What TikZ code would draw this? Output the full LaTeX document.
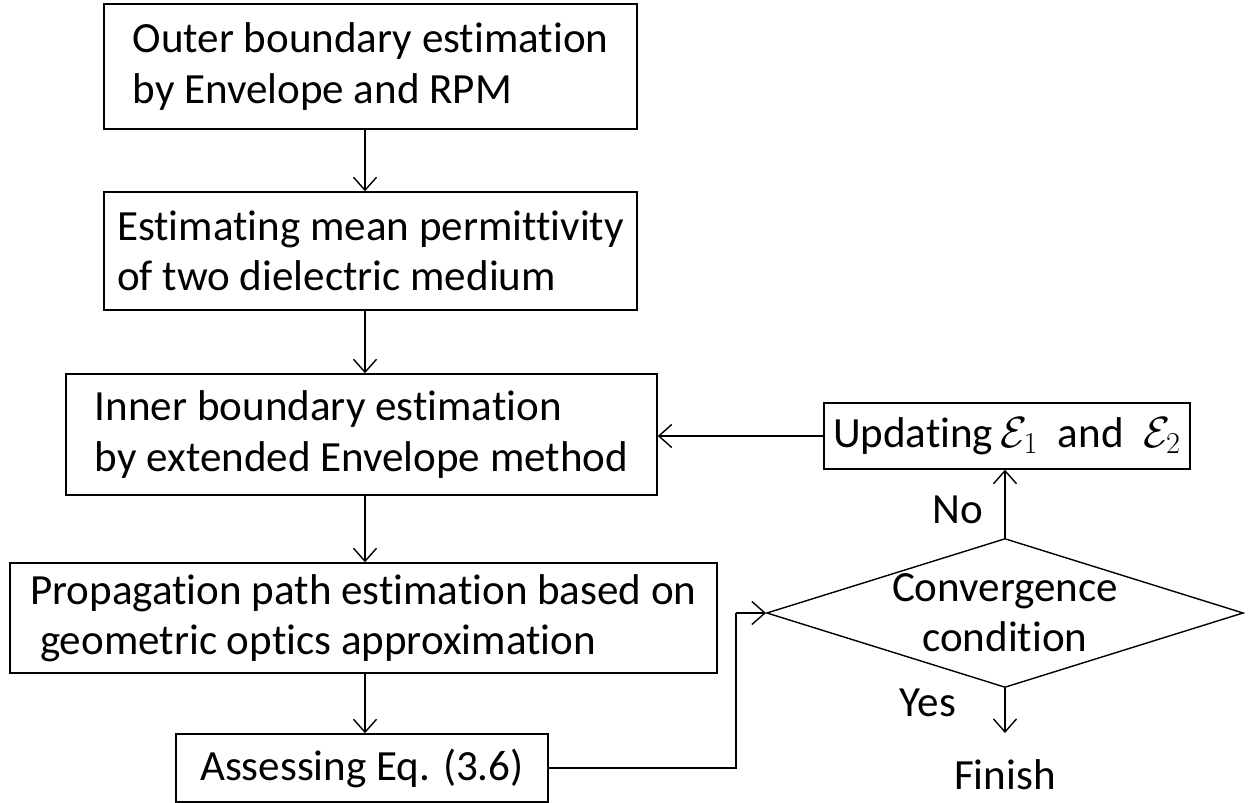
\documentclass[tikz,border=0pt]{standalone}
\usepackage{amsmath}
\usepackage{fontspec}
\setmainfont{Carlito}[Ligatures=NoCommon]
\usetikzlibrary{arrows, arrows.meta, shapes.geometric}

\begin{document}
\begin{tikzpicture}[
  box/.style={draw, line width=0.8pt, inner sep=0pt, align=left},
  arr/.style={line width=0.8pt, -{Straight Barb[length=2.6mm,width=4.6mm]}},
  every node/.style={font=\fontsize{24.5}{28.5}\selectfont}
]
\useasboundingbox (0,0) rectangle (24.96,-16.06);

\node[box, minimum width=10.66cm, minimum height=2.5cm] (outer) at (7.41,-1.33)
  {Outer boundary estimation\\by Envelope and RPM}; %1
\node[box, minimum width=10.66cm, minimum height=2.36cm] (mean) at (7.41,-5.02)
  {Estimating mean permittivity\\of two dielectric medium}; %2
\node[box, minimum width=11.82cm, minimum height=2.42cm] (inner) at (7.23,-8.69)
  {Inner boundary estimation\\by extended Envelope method}; %3
\node[box, minimum width=14.14cm, minimum height=2.2cm] (path) at (7.27,-12.36)
  {Propagation path estimation based on\\\ geometric optics approximation}; %4
\node[box, minimum width=7.44cm, minimum height=1.36cm] (assess) at (7.24,-15.36)
  {Assessing Eq. (3.6)}; %5
\node[box, minimum width=7.32cm, minimum height=1.32cm] (update) at (20.14,-8.72)
  {Updating\,$\mathcal{E}_1$\ \ and\ \ $\mathcal{E}_2$}; %6
\node[draw, line width=0.8pt, diamond, aspect=3.2, inner sep=0pt, align=center,
  minimum width=9.4cm, minimum height=2.94cm] (cond) at (20.10,-12.26)
  {Convergence\\condition}; %7
\node[] (finish) at (20.10,-15.5) {Finish};
\coordinate (finarr) at (20.10,-14.66);
\coordinate (bend) at (14.72,-12.26);

\draw[arr] (outer.south -| 7.3,0) -- (mean.north -| 7.3,0);
\draw[arr] (mean.south -| 7.3,0) -- (inner.north -| 7.3,0);
\draw[arr] (inner.south -| 7.3,0) -- (path.north -| 7.3,0);
\draw[arr] (path.south -| 7.3,0) -- (assess.north -| 7.3,0);
\draw[arr] (update.west) -- (update.west -| inner.east);
\draw[arr] (cond.north) -- (update.south -| cond.north);
\draw[arr] (cond.south) -- (finarr);
\draw[line width=1.6pt] (assess.east) -| (bend);
\draw[arr] (bend) -- (cond.west);

\node[] (no) at (19.16,-10.2) {No};
\node[] (yes) at (18.56,-14.06) {Yes};

\end{tikzpicture}
\end{document}
